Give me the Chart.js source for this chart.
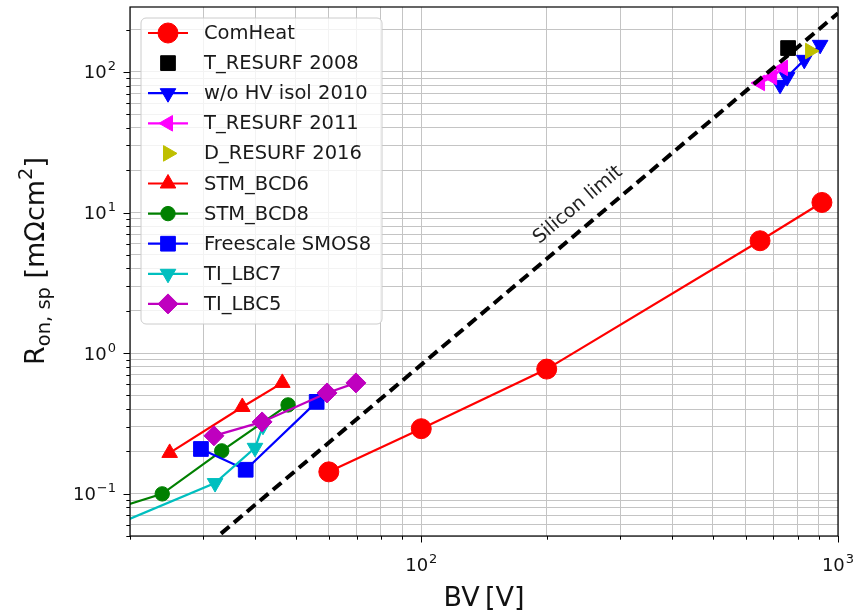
<!DOCTYPE html>
<html>
<head>
<meta charset="utf-8">
<script src="https://cdn.jsdelivr.net/npm/chart.js@4.4.1/dist/chart.umd.min.js"></script>
<style>
  html, body { margin: 0; padding: 0; background: #fff; }
  canvas { display: block; }
</style>
</head>
<body>
<canvas id="chart" width="865" height="611"></canvas>
<script>
// values: BV in V, Ron,sp in mOhm.cm2
const comheatBV  = [60, 100, 200, 650, 915];
const comheatRon = [0.143, 0.29, 0.77, 6.3, 11.8];

const tresurf08BV  = [759];
const tresurf08Ron = [148];

const woHvBV  = [726, 755, 830, 906];
const woHvRon = [81, 92, 122, 156];

const tresurf11BV  = [650, 695, 738];
const tresurf11Ron = [83.6, 92, 107];

const dresurf16BV  = [857];
const dresurf16Ron = [141];

const bcd6BV  = [24.9, 37.2, 46.4];
const bcd6Ron = [0.195, 0.414, 0.614];

const bcd8BV  = [15, 23.9, 33.2, 47.9];
const bcd8Ron = [0.065, 0.0997, 0.2016, 0.428];

const smos8BV  = [29.6, 37.9, 56.1];
const smos8Ron = [0.208, 0.148, 0.45];

const lbc7BV  = [15, 32, 39.9, 41.7];
const lbc7Ron = [0.0463, 0.119, 0.212, 0.304];

const lbc5BV  = [31.8, 41.5, 59.4, 69.7];
const lbc5Ron = [0.258, 0.324, 0.521, 0.614];

const siliconBV  = [20, 1000];
const siliconRon = [0.0148, 262];

const xTicks = [20, 30, 40, 50, 60, 70, 80, 90, 100, 200, 300, 400, 500, 600, 700, 800, 900, 1000];
const yTicks = [0.05, 0.06, 0.07, 0.08, 0.09, 0.1, 0.2, 0.3, 0.4, 0.5, 0.6, 0.7, 0.8, 0.9,
                1, 2, 3, 4, 5, 6, 7, 8, 9, 10, 20, 30, 40, 50, 60, 70, 80, 90, 100, 200];
const xTickLabels = { 100: ['10', '2'], 1000: ['10', '3'] };
const yTickLabels = { 0.1: ['10', '\u22121'], 1: ['10', '0'], 10: ['10', '1'], 100: ['10', '2'] };

const FONT = '"DejaVu Sans", "Liberation Sans", sans-serif';
const gridColor = '#c4c4c4';

function pts(xs, ys) {
    return xs.map((x, i) => ({ x: x, y: ys[i] }));
}

function series(label, xs, ys, color, style, rotation, radius, line) {
    return {
        label: label,
        data: pts(xs, ys),
        showLine: line,
        borderColor: color,
        backgroundColor: color,
        borderWidth: 2.2,
        pointStyle: style,
        rotation: rotation,
        pointRadius: radius,
        pointBorderWidth: 1,
        pointBorderColor: color,
        pointBackgroundColor: color,
        tension: 0
    };
}

const datasets = [
    series('ComHeat', comheatBV, comheatRon, '#ff0000', 'circle', 0, 10, true),
    series('T_RESURF 2008', tresurf08BV, tresurf08Ron, '#000000', 'rect', 0, 10.4, false),
    series('w/o HV isol 2010', woHvBV, woHvRon, '#0000ff', 'triangle', 180, 9, true),
    series('T_RESURF 2011', tresurf11BV, tresurf11Ron, '#ff00ff', 'triangle', 270, 9, true),
    series('D_RESURF 2016', dresurf16BV, dresurf16Ron, '#bfbf00', 'triangle', 90, 9, false),
    series('STM_BCD6', bcd6BV, bcd6Ron, '#ff0000', 'triangle', 0, 9, true),
    series('STM_BCD8', bcd8BV, bcd8Ron, '#008000', 'circle', 0, 7.2, true),
    series('Freescale SMOS8', smos8BV, smos8Ron, '#0000ff', 'rect', 0, 10.4, true),
    series('TI_LBC7', lbc7BV, lbc7Ron, '#00bfbf', 'triangle', 180, 9, true),
    series('TI_LBC5', lbc5BV, lbc5Ron, '#bf00bf', 'rectRot', 0, 10, true)
];
// later series are drawn on top, like in the original
datasets.forEach((d, i) => { d.order = datasets.length - i; });

const legendCount = datasets.length;

datasets.push({
    label: 'Silicon limit',
    data: pts(siliconBV, siliconRon),
    showLine: true,
    borderColor: '#000',
    borderWidth: 4,
    borderDash: [11, 6],
    pointRadius: 0,
    order: 0
});

function drawPow(ctx, base, exp, x, y, align) {
    ctx.font = '18px ' + FONT;
    const wb = ctx.measureText(base).width;
    ctx.font = '13px ' + FONT;
    const we = ctx.measureText(exp).width;
    const total = wb + we + 1;
    let x0 = x;
    if (align === 'right') x0 = x - total;
    if (align === 'center') x0 = x - total / 2;
    ctx.textAlign = 'left';
    ctx.textBaseline = 'alphabetic';
    ctx.font = '18px ' + FONT;
    ctx.fillText(base, x0, y);
    ctx.font = '13px ' + FONT;
    ctx.fillText(exp, x0 + wb + 1, y - 8);
}

function isDecade(v) {
    const e = Math.log10(v);
    return Math.abs(e - Math.round(e)) < 1e-9;
}

const axisPlugin = {
    id: 'axisDecor',
    afterDraw(chart) {
        const ctx = chart.ctx;
        const a = chart.chartArea;
        const xs = chart.scales.x, ys = chart.scales.y;
        ctx.save();
        // frame
        ctx.strokeStyle = '#000';
        ctx.lineWidth = 1.2;
        ctx.strokeRect(a.left, a.top, a.right - a.left, a.bottom - a.top);

        // tick marks, outward
        ctx.lineWidth = 1;
        xTicks.forEach(v => {
            const px = Math.round(xs.getPixelForValue(v)) + 0.5;
            const len = isDecade(v) ? 6.5 : 3.7;
            ctx.beginPath();
            ctx.moveTo(px, a.bottom);
            ctx.lineTo(px, a.bottom + len);
            ctx.stroke();
        });
        yTicks.forEach(v => {
            const py = Math.round(ys.getPixelForValue(v)) + 0.5;
            const len = isDecade(v) ? 6.5 : 3.7;
            ctx.beginPath();
            ctx.moveTo(a.left, py);
            ctx.lineTo(a.left - len, py);
            ctx.stroke();
        });

        // tick labels
        ctx.fillStyle = '#111';
        Object.keys(xTickLabels).forEach(k => {
            const l = xTickLabels[k];
            drawPow(ctx, l[0], l[1], xs.getPixelForValue(Number(k)), 571, 'center');
        });
        Object.keys(yTickLabels).forEach(k => {
            const l = yTickLabels[k];
            drawPow(ctx, l[0], l[1], 116, ys.getPixelForValue(Number(k)) + 6.5, 'right');
        });

        // x title
        ctx.font = '27px ' + FONT;
        ctx.textAlign = 'center';
        ctx.textBaseline = 'alphabetic';
        ctx.fillText('BV\u2009[V]', (a.left + a.right) / 2, 606);

        // y title, R with subscript on,sp and cm with superscript 2
        const parts = [
            ['R', 27, 0],
            ['on, sp', 19.5, 6],
            [' [m\u03a9cm', 27, 0],
            ['2', 19.5, -12],
            [']', 27, 0]
        ];
        let total = 0;
        parts.forEach(p => { ctx.font = p[1] + 'px ' + FONT; p.push(ctx.measureText(p[0]).width); total += p[3]; });
        ctx.save();
        ctx.translate(44, 261);
        ctx.rotate(-Math.PI / 2);
        ctx.textAlign = 'left';
        let cx = -total / 2;
        parts.forEach(p => {
            ctx.font = p[1] + 'px ' + FONT;
            ctx.fillText(p[0], cx, p[2]);
            cx += p[3];
        });
        ctx.restore();
        ctx.restore();

        drawLegend(chart);
    },
    afterDatasetsDraw(chart) {
        // label along the silicon limit line
        const ctx = chart.ctx;
        ctx.save();
        ctx.translate(578, 205);
        ctx.rotate(-40.1 * Math.PI / 180);
        ctx.font = '19px ' + FONT;
        ctx.fillStyle = '#222';
        ctx.textAlign = 'center';
        ctx.textBaseline = 'middle';
        ctx.fillText('Silicon limit', 0, 0);
        ctx.restore();
    }
};

function drawLegend(chart) {
    const ctx = chart.ctx;
    const bx = 141, by = 18, bw = 241, bh = 306, r = 5;
    ctx.save();
    ctx.beginPath();
    ctx.moveTo(bx + r, by);
    ctx.arcTo(bx + bw, by, bx + bw, by + bh, r);
    ctx.arcTo(bx + bw, by + bh, bx, by + bh, r);
    ctx.arcTo(bx, by + bh, bx, by, r);
    ctx.arcTo(bx, by, bx + bw, by, r);
    ctx.closePath();
    ctx.fillStyle = 'rgba(255,255,255,0.8)';
    ctx.fill();
    ctx.strokeStyle = '#cccccc';
    ctx.lineWidth = 1;
    ctx.stroke();

    for (let i = 0; i < legendCount; i++) {
        const d = datasets[i];
        const y = 33 + i * 30.1;
        if (d.showLine) {
            ctx.strokeStyle = d.borderColor;
            ctx.lineWidth = d.borderWidth;
            ctx.beginPath();
            ctx.moveTo(148, y);
            ctx.lineTo(188, y);
            ctx.stroke();
        }
        ctx.fillStyle = d.pointBackgroundColor;
        ctx.strokeStyle = d.pointBorderColor;
        ctx.lineWidth = 1;
        Chart.helpers.drawPoint(ctx, {
            pointStyle: d.pointStyle,
            rotation: d.rotation,
            radius: d.pointRadius,
            borderWidth: 1
        }, 168, y);

        ctx.fillStyle = '#1a1a1a';
        ctx.font = '19.5px ' + FONT;
        ctx.textAlign = 'left';
        ctx.textBaseline = 'middle';
        ctx.fillText(d.label, 204, y + 1);
    }
    ctx.restore();
}

const ctx = document.getElementById('chart').getContext('2d');
new Chart(ctx, {
    type: 'scatter',
    data: { datasets: datasets },
    options: {
        responsive: false,
        animation: false,
        devicePixelRatio: 1,
        layout: { autoPadding: false, padding: { top: 7, right: 27, left: 0, bottom: 0 } },
        plugins: {
            legend: { display: false },
            tooltip: { enabled: false }
        },
        scales: {
            x: {
                type: 'logarithmic',
                min: 20,
                max: 1000,
                afterBuildTicks: s => { s.ticks = xTicks.map(v => ({ value: v })); },
                afterFit: s => { s.height = 75; },
                ticks: { display: false, autoSkip: false },
                grid: { color: gridColor, lineWidth: 1, drawTicks: false },
                border: { display: false }
            },
            y: {
                type: 'logarithmic',
                min: 0.05,
                max: 290,
                afterBuildTicks: s => { s.ticks = yTicks.map(v => ({ value: v })); },
                afterFit: s => { s.width = 130; },
                ticks: { display: false, autoSkip: false },
                grid: { color: gridColor, lineWidth: 1, drawTicks: false },
                border: { display: false }
            }
        }
    },
    plugins: [axisPlugin]
});
</script>
</body>
</html>
